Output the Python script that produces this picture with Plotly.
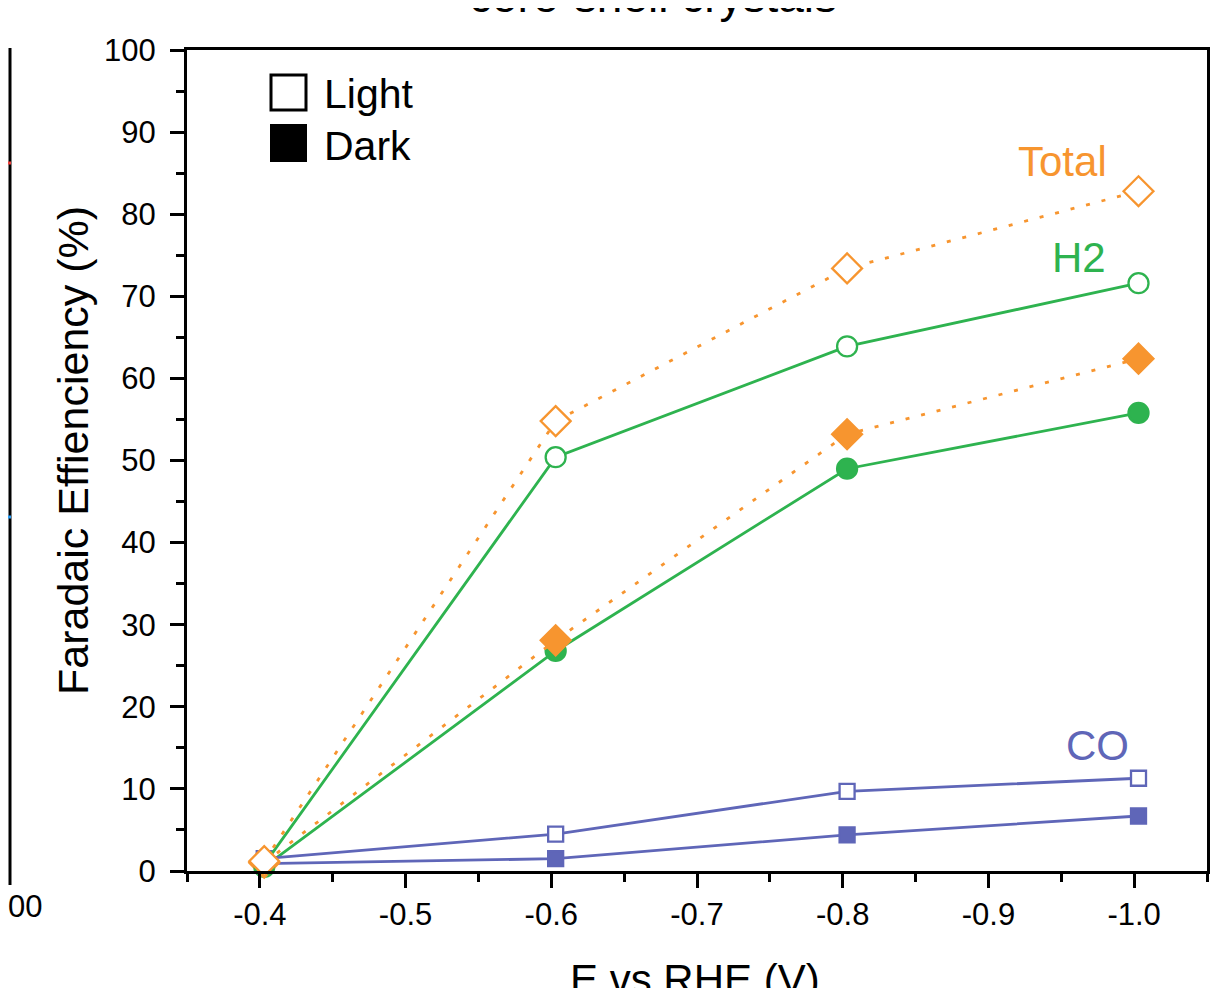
import plotly.graph_objects as go

# ---- data ----
potential = [-0.403, -0.603, -0.803, -1.003]
total_light = [1.2, 54.8, 73.4, 82.8]
total_dark = [1.0, 28.1, 53.2, 62.4]
h2_light = [0.8, 50.4, 63.9, 71.6]
h2_dark = [0.5, 26.8, 49.0, 55.8]
co_light = [1.5, 4.5, 9.7, 11.3]
co_dark = [0.9, 1.5, 4.4, 6.7]

x_tickvals = [-0.4, -0.5, -0.6, -0.7, -0.8, -0.9, -1.0]
x_ticktext = ["-0.4", "-0.5", "-0.6", "-0.7", "-0.8", "-0.9", "-1.0"]
y_tickvals = [0, 10, 20, 30, 40, 50, 60, 70, 80, 90, 100]

ORANGE = "#F7952F"
GREEN = "#2EB34F"
BLUE = "#5F66B8"

OFF = 8  # page offset of the figure
W, H = 1217, 980
L, T = 187 - OFF, 50 - OFF
R = W + OFF - 1207
B = H + OFF - 871
PW, PH = W - L - R, H - T - B


def px(xp):
    return (xp - OFF - L) / PW


def py(yp):
    return (H - B - (yp - OFF)) / PH


fig = go.Figure()


def add(y, color, symbol, size, dash, open_):
    fig.add_trace(go.Scatter(
        x=potential, y=y, mode="lines+markers",
        line=dict(color=color, width=2.8, dash=dash),
        marker=dict(symbol=symbol, size=size,
                    color="white" if open_ else color,
                    line=dict(color=color, width=2.3)),
        showlegend=False, cliponaxis=False))


DOTS = "4px,12px"
add(co_dark, BLUE, "square", 15, "solid", False)
add(h2_dark, GREEN, "circle", 20, "solid", False)
add(total_dark, ORANGE, "diamond", 23, DOTS, False)
add(co_light, BLUE, "square", 15, "solid", True)
add(h2_light, GREEN, "circle", 20, "solid", True)
add(total_light, ORANGE, "diamond", 23, DOTS, True)

axis_common = dict(showline=True, linecolor="black", linewidth=3, mirror=True,
                   showgrid=False, zeroline=False, ticks="outside", ticklen=14,
                   tickwidth=2.5, tickcolor="black")

REG = "Liberation Sans, Arial"
fig.update_xaxes(**axis_common, range=[-0.35, -1.05], tickvals=x_tickvals,
                 ticktext=x_ticktext,
                 tickfont=dict(family=REG, size=31, color="black"),
                 minor=dict(dtick=0.05, ticks="outside", ticklen=8, tickwidth=2.5, tickcolor="black", tick0=-0.35))
fig.update_yaxes(**axis_common, range=[0, 100], tickvals=y_tickvals,
                 ticklabelstandoff=8,
                 tickfont=dict(family=REG, size=31, color="black"),
                 minor=dict(dtick=5, ticks="outside", ticklen=8, tickwidth=2.5, tickcolor="black"))

shapes = []
# legend squares
shapes.append(dict(type="rect", xref="paper", yref="paper", x0=px(271), x1=px(306),
                   y0=py(110), y1=py(75), line=dict(color="black", width=3), fillcolor="white"))
shapes.append(dict(type="rect", xref="paper", yref="paper", x0=px(270), x1=px(307),
                   y0=py(162), y1=py(124), line=dict(color="black", width=0), fillcolor="black"))
# remnant of neighbouring panel at left edge
shapes.append(dict(type="line", xref="paper", yref="paper", x0=px(10), x1=px(10), y0=py(871), y1=py(48),
                   line=dict(color="black", width=3)))
shapes.append(dict(type="line", xref="paper", yref="paper", x0=px(10), x1=px(10), y0=py(871), y1=py(885),
                   line=dict(color="black", width=3)))
shapes.append(dict(type="line", xref="paper", yref="paper", x0=px(8), x1=px(11), y0=py(163), y1=py(163),
                   line=dict(color="#F0413C", width=3)))
shapes.append(dict(type="line", xref="paper", yref="paper", x0=px(8), x1=px(11), y0=py(517), y1=py(517),
                   line=dict(color="#2A9DF4", width=3)))

ann = []
ann.append(dict(text="Light", xref="paper", yref="paper", x=px(322), y=py(94), xanchor="left",
                yanchor="middle", showarrow=False, font=dict(family=REG, size=41, color="black")))
ann.append(dict(text="Dark", xref="paper", yref="paper", x=px(322), y=py(146), xanchor="left",
                yanchor="middle", showarrow=False, font=dict(family=REG, size=41, color="black")))
ann.append(dict(text="Total", x=-0.951, y=86.4, showarrow=False, font=dict(family=REG, size=42, color=ORANGE)))
ann.append(dict(text="H2", x=-0.962, y=74.7, showarrow=False, font=dict(family=REG, size=42, color=GREEN)))
ann.append(dict(text="CO", x=-0.975, y=15.3, showarrow=False, font=dict(family=REG, size=42, color=BLUE)))
ann.append(dict(text="Faradaic Effienciency (%)", xref="paper", yref="paper", x=px(73), y=py(451),
                textangle=-90, showarrow=False, xanchor="center", yanchor="middle",
                font=dict(family=REG, size=43, color="black")))
ann.append(dict(text="E vs RHE (V)", xref="paper", yref="paper", x=px(695), y=py(979),
                showarrow=False, xanchor="center", yanchor="middle",
                font=dict(family=REG, size=42, color="black")))
ann.append(dict(text="core-shell crystals", xref="paper", yref="paper", x=px(653), y=py(24),
                showarrow=False, xanchor="center", yanchor="bottom",
                font=dict(family=REG, size=46, color="black")))
ann.append(dict(text="00", xref="paper", yref="paper", x=px(6), y=py(906),
                showarrow=False, xanchor="left", yanchor="middle",
                font=dict(family=REG, size=31, color="black")))

fig.update_layout(width=W, height=H, margin=dict(l=L, r=R, t=T, b=B),
                  paper_bgcolor="white", plot_bgcolor="white",
                  shapes=shapes, annotations=ann, showlegend=False)

fig.write_html("out.html")
